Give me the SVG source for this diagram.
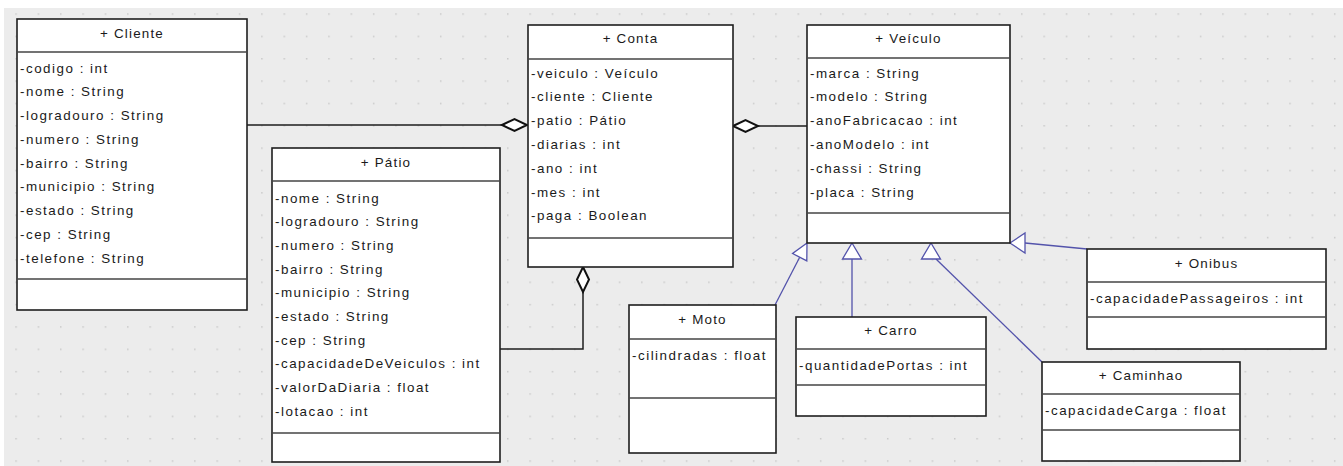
<svg xmlns="http://www.w3.org/2000/svg" width="1343" height="466" viewBox="0 0 1343 466">
  <defs>
    <pattern id="grid" x="15.3" y="13.3" width="22.35" height="22.35" patternUnits="userSpaceOnUse">
      <rect x="0" y="0" width="1.5" height="1.5" fill="#c9c9c9"/>
    </pattern>
    <style>
      .box { fill: #ffffff; stroke: #1e1e1e; stroke-width: 1.6; }
      .sep { stroke: #444444; stroke-width: 1.5; }
      .title { font-family: "Liberation Sans", Arial, sans-serif; font-size: 13.4px; letter-spacing: 1.2px; fill: #1a1a1a; text-anchor: middle; }
      .attr { font-family: "Liberation Sans", Arial, sans-serif; font-size: 13.4px; letter-spacing: 1.5px; fill: #1a1a1a; }
      .assoc { fill: none; stroke: #1e1e1e; stroke-width: 1.5; }
      .diamond { fill: #ffffff; stroke: #111111; stroke-width: 2; }
      .gen { fill: none; stroke: #5353ab; stroke-width: 1.3; }
      .tri { fill: #ffffff; stroke: #5353ab; stroke-width: 1.3; }
    </style>
  </defs>

  <!-- canvas -->
  <rect x="0" y="0" width="1343" height="466" fill="#ffffff"/>
  <rect x="4" y="8" width="1339" height="458" fill="#ececec"/>
  <rect x="4" y="8" width="1339" height="458" fill="url(#grid)"/>

  <!-- connectors -->
  <g id="connectors">
    <!-- Cliente - Conta aggregation -->
    <line class="assoc" x1="247" y1="125" x2="502" y2="125"/>
    <polygon class="diamond" points="502,125 514.5,119 527,125 514.5,131"/>
    <!-- Veiculo - Conta aggregation -->
    <line class="assoc" x1="758" y1="126" x2="807" y2="126"/>
    <polygon class="diamond" points="733,126 745.5,120 758,126 745.5,132"/>
    <!-- Patio - Conta aggregation -->
    <polyline class="assoc" points="500,349 583,349 583,292"/>
    <polygon class="diamond" points="583,267 589,279.5 583,292 577,279.5"/>

    <!-- generalizations to Veiculo -->
    <line class="gen" x1="775" y1="305" x2="799.7" y2="257.2"/>
    <polygon class="tri" points="807,243 806.8,260.9 792.6,253.5"/>

    <line class="gen" x1="852" y1="317" x2="852" y2="259"/>
    <polygon class="tri" points="852,243 861.5,259 842.5,259"/>

    <line class="gen" x1="1042" y1="362" x2="936" y2="259"/>
    <polygon class="tri" points="931,243 940.5,259 921.5,259"/>

    <line class="gen" x1="1087" y1="249" x2="1025" y2="243"/>
    <polygon class="tri" points="1010,243 1025,233 1025,253"/>
  </g>

  <!-- Cliente -->
  <g id="cliente">
    <rect class="box" x="17" y="19" width="230" height="291"/>
    <line class="sep" x1="17" y1="52" x2="247" y2="52"/>
    <line class="sep" x1="17" y1="279" x2="247" y2="279"/>
    <text class="title" x="132" y="37.5">+ Cliente</text>
    <text class="attr" x="20" y="72.5">-codigo : int</text>
    <text class="attr" x="20" y="96.25">-nome : String</text>
    <text class="attr" x="20" y="120">-logradouro : String</text>
    <text class="attr" x="20" y="143.75">-numero : String</text>
    <text class="attr" x="20" y="167.5">-bairro : String</text>
    <text class="attr" x="20" y="191.25">-municipio : String</text>
    <text class="attr" x="20" y="215">-estado : String</text>
    <text class="attr" x="20" y="238.75">-cep : String</text>
    <text class="attr" x="20" y="262.5">-telefone : String</text>
  </g>

  <!-- Patio -->
  <g id="patio">
    <rect class="box" x="272" y="148" width="228" height="314"/>
    <line class="sep" x1="272" y1="181" x2="500" y2="181"/>
    <line class="sep" x1="272" y1="433" x2="500" y2="433"/>
    <text class="title" x="386" y="166.5">+ Pátio</text>
    <text class="attr" x="275" y="202.5">-nome : String</text>
    <text class="attr" x="275" y="226.2">-logradouro : String</text>
    <text class="attr" x="275" y="249.9">-numero : String</text>
    <text class="attr" x="275" y="273.6">-bairro : String</text>
    <text class="attr" x="275" y="297.3">-municipio : String</text>
    <text class="attr" x="275" y="321">-estado : String</text>
    <text class="attr" x="275" y="344.7">-cep : String</text>
    <text class="attr" x="275" y="368.4">-capacidadeDeVeiculos : int</text>
    <text class="attr" x="275" y="392.1">-valorDaDiaria : float</text>
    <text class="attr" x="275" y="415.8">-lotacao : int</text>
  </g>

  <!-- Conta -->
  <g id="conta">
    <rect class="box" x="528" y="25" width="205" height="242"/>
    <line class="sep" x1="528" y1="59" x2="733" y2="59"/>
    <line class="sep" x1="528" y1="238" x2="733" y2="238"/>
    <text class="title" x="630.5" y="42.5">+ Conta</text>
    <text class="attr" x="531" y="77.5">-veiculo : Veículo</text>
    <text class="attr" x="531" y="101.3">-cliente : Cliente</text>
    <text class="attr" x="531" y="125.1">-patio : Pátio</text>
    <text class="attr" x="531" y="148.9">-diarias : int</text>
    <text class="attr" x="531" y="172.7">-ano : int</text>
    <text class="attr" x="531" y="196.5">-mes : int</text>
    <text class="attr" x="531" y="220.3">-paga : Boolean</text>
  </g>

  <!-- Veiculo -->
  <g id="veiculo">
    <rect class="box" x="807" y="25" width="203" height="218"/>
    <line class="sep" x1="807" y1="58" x2="1010" y2="58"/>
    <line class="sep" x1="807" y1="213" x2="1010" y2="213"/>
    <text class="title" x="908.5" y="42.5">+ Veículo</text>
    <text class="attr" x="810" y="77.5">-marca : String</text>
    <text class="attr" x="810" y="101.3">-modelo : String</text>
    <text class="attr" x="810" y="125.1">-anoFabricacao : int</text>
    <text class="attr" x="810" y="148.9">-anoModelo : int</text>
    <text class="attr" x="810" y="172.7">-chassi : String</text>
    <text class="attr" x="810" y="196.5">-placa : String</text>
  </g>

  <!-- Moto -->
  <g id="moto">
    <rect class="box" x="629" y="305" width="147" height="148"/>
    <line class="sep" x1="629" y1="339" x2="776" y2="339"/>
    <line class="sep" x1="629" y1="398" x2="776" y2="398"/>
    <text class="title" x="702.5" y="323.5">+ Moto</text>
    <text class="attr" x="632" y="359.5">-cilindradas : float</text>
  </g>

  <!-- Carro -->
  <g id="carro">
    <rect class="box" x="796" y="317" width="190" height="99"/>
    <line class="sep" x1="796" y1="349" x2="986" y2="349"/>
    <line class="sep" x1="796" y1="385" x2="986" y2="385"/>
    <text class="title" x="891" y="334.5">+ Carro</text>
    <text class="attr" x="799" y="369.5">-quantidadePortas : int</text>
  </g>

  <!-- Onibus -->
  <g id="onibus">
    <rect class="box" x="1087" y="249" width="239" height="100"/>
    <line class="sep" x1="1087" y1="282" x2="1326" y2="282"/>
    <line class="sep" x1="1087" y1="317" x2="1326" y2="317"/>
    <text class="title" x="1206.5" y="267.5">+ Onibus</text>
    <text class="attr" x="1090" y="302.5">-capacidadePassageiros : int</text>
  </g>

  <!-- Caminhao -->
  <g id="caminhao">
    <rect class="box" x="1042" y="362" width="198" height="99"/>
    <line class="sep" x1="1042" y1="394" x2="1240" y2="394"/>
    <line class="sep" x1="1042" y1="430" x2="1240" y2="430"/>
    <text class="title" x="1141" y="379.5">+ Caminhao</text>
    <text class="attr" x="1045" y="414.5">-capacidadeCarga : float</text>
  </g>
</svg>
